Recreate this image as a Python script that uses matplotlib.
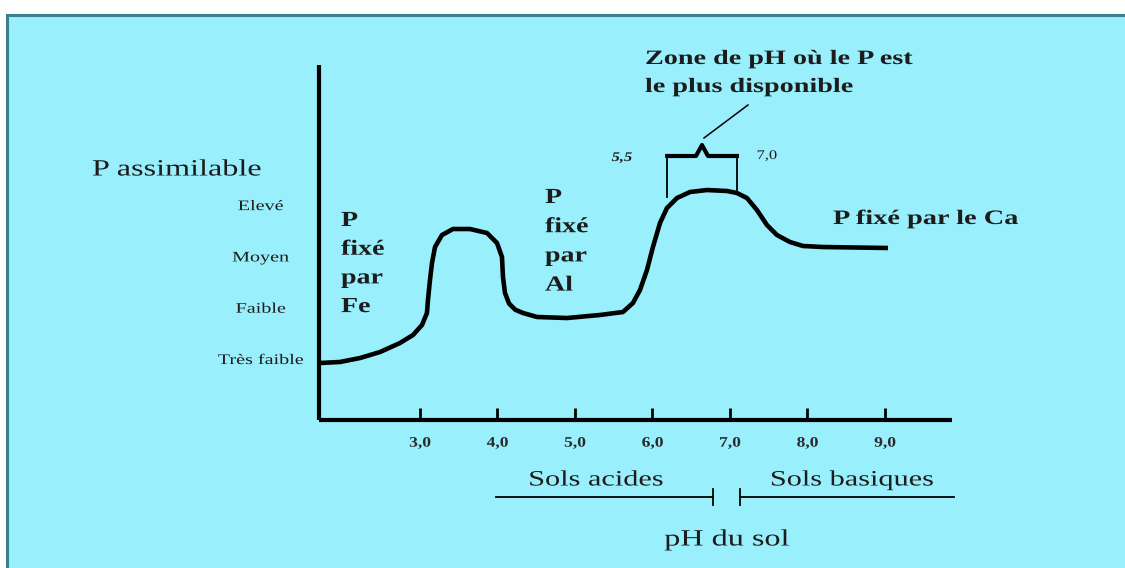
import matplotlib
matplotlib.use("Agg")
import matplotlib.pyplot as plt
from matplotlib.patches import Rectangle
from matplotlib.patheffects import AbstractPathEffect
from matplotlib.transforms import Affine2D

# ---- data ----
ph_values = [1.710, 1.968, 2.226, 2.484, 2.742, 2.910, 3.026, 3.090, 3.103, 3.129,
             3.155, 3.194, 3.284, 3.426, 3.645, 3.865, 3.994, 4.058, 4.071, 4.097,
             4.150, 4.230, 4.329, 4.510, 4.897, 5.323, 5.619, 5.748, 5.839,
             5.929, 6.006, 6.097, 6.187, 6.316, 6.484, 6.703, 6.961, 7.090, 7.219,
             7.348, 7.477, 7.606, 7.774, 7.942, 8.200, 9.039]
p_levels = [0.922, 0.942, 1.019, 1.136, 1.312, 1.468, 1.663, 1.897, 2.150, 2.540,
            2.871, 3.183, 3.417, 3.534, 3.534, 3.456, 3.261, 2.988, 2.598, 2.287,
            2.080, 1.960, 1.897, 1.819, 1.799, 1.858, 1.916, 2.092, 2.345,
            2.735, 3.183, 3.651, 3.943, 4.138, 4.255, 4.294, 4.275, 4.236, 4.138,
            3.904, 3.612, 3.417, 3.281, 3.203, 3.183, 3.164]
x_ticks = [3.0, 4.0, 5.0, 6.0, 7.0, 8.0, 9.0]
x_tick_labels = ["3,0", "4,0", "5,0", "6,0", "7,0", "8,0", "9,0"]
y_ticks = [1, 2, 3, 4]
y_tick_labels = ["Très faible", "Faible", "Moyen", "Elevé"]
zone_bounds = [6.19, 7.09]
zone_labels = ["5,5", "7,0"]

W, H = 1125, 568
BG = "#9aeffc"
INK = "#1c1c1c"
SX = 1.38  # the reference's lettering is horizontally stretched
FONT = "Liberation Serif"
plt.rcParams["font.family"] = [FONT, "DejaVu Serif"]


class StretchX(AbstractPathEffect):
    """Widen glyphs horizontally, about the left edge or the centre of the line."""

    def __init__(self, sx, anchor="left"):
        super().__init__()
        self.sx = sx
        self.anchor = anchor

    def draw_path(self, renderer, gc, tpath, affine, rgbFace=None):
        if self.anchor == "center":
            ext = tpath.get_extents()
            cx = 0.5 * (ext.x0 + ext.x1)
        else:
            cx = 0.0
        st = Affine2D().translate(-cx, 0).scale(self.sx, 1).translate(cx, 0)
        renderer.draw_path(gc, tpath, st + affine, rgbFace)


fig = plt.figure(figsize=(W / 100, H / 100), dpi=100)
fig.patch.set_facecolor("white")
bg = Rectangle((6.5 / W, -0.05), 1.1, (H - 14.5) / H + 0.05, transform=fig.transFigure,
               facecolor=BG, edgecolor="#3a7f8c", linewidth=2.2, zorder=-5)
fig.add_artist(bg)

ax_l, ax_r, ax_b, ax_t = 319, 952, 420, 65
ax = fig.add_axes([ax_l / W, (H - ax_b) / H, (ax_r - ax_l) / W, (ax_b - ax_t) / H])
ax.set_zorder(2)
ax.set_facecolor("none")
ax.set_xlim(1.697, 9.865)
ax.set_ylim(-0.189, 6.731)
for s in ["top", "right"]:
    ax.spines[s].set_visible(False)
for s in ["left", "bottom"]:
    ax.spines[s].set_linewidth(3.0)
    ax.spines[s].set_color("black")
    ax.spines[s].set_capstyle("butt")

ax.set_xticks(x_ticks)
ax.set_xticklabels(x_tick_labels, fontsize=10.5, color="#2a2a2a", fontweight="bold")
ax.tick_params(axis="x", direction="in", length=9, width=2, pad=12)
ax.set_yticks(y_ticks)
ax.set_yticklabels(y_tick_labels, fontsize=10.5, color=INK)
ax.tick_params(axis="y", length=0, pad=42)
for lab in ax.get_yticklabels():
    lab.set_horizontalalignment("center")
    lab.set_path_effects([StretchX(SX, "center")])
for lab in ax.get_xticklabels():
    lab.set_path_effects([StretchX(1.2, "center")])

ax.plot(ph_values, p_levels, color="black", linewidth=3.3, solid_capstyle="butt",
        solid_joinstyle="round")


# helper: pixel position -> data position (layout only)
def px(x):
    return 3.0 + (x - 420) / 77.5


def py(y):
    return 1.0 + (359 - y) / 51.3


def label(x, y, s, size, ha="left", weight="normal", style="normal", sx=SX):
    t = ax.text(px(x), py(y), s, fontsize=size, ha=ha, va="center", color=INK,
                fontweight=weight, style=style, clip_on=False)
    t.set_path_effects([StretchX(sx, "center" if ha == "center" else "left")])
    return t


label(92, 170, "P assimilable", 16.8)

for i, w in enumerate(["P", "fixé", "par", "Fe"]):
    label(341, 221 + 28.7 * i, w, 15.5, weight="bold", sx=1.3)
for i, w in enumerate(["P", "fixé", "par", "Al"]):
    label(545, 198 + 29.2 * i, w, 15.5, weight="bold", sx=1.3)
label(833, 219, "P fixé par le Ca", 14.8, weight="bold")

label(645, 59, "Zone de pH où le P est", 14.7, weight="bold")
label(645, 87, "le plus disponible", 14.7, weight="bold")

# bracket over the zone of best availability
xl, xr = zone_bounds
ytop = py(156)
ax.plot([xl, xl], [py(197), ytop], color="black", lw=1.3, clip_on=False)
ax.plot([xr, xr], [py(190), ytop], color="black", lw=1.3, clip_on=False)
ax.plot([xl, px(696), px(702), px(708), xr], [ytop, ytop, py(145), ytop, ytop],
        color="black", lw=3.0, clip_on=False, solid_joinstyle="round")
ax.plot([px(704), px(748)], [py(138), py(105)], color="black", lw=1.1, clip_on=False)
label(622, 158, zone_labels[0], 9.5, ha="center", style="italic", weight="bold", sx=1.25)
label(767, 156, zone_labels[1], 9.5, ha="center", sx=1.25)

# bottom annotations
label(596, 481, "Sols acides", 15.8, ha="center")
label(852, 481, "Sols basiques", 15.8, ha="center")
ax.plot([px(496), px(713)], [py(497), py(497)], color="black", lw=1.3, clip_on=False)
ax.plot([px(713), px(713)], [py(489), py(505)], color="black", lw=1.3, clip_on=False)
ax.plot([px(740), px(954)], [py(497), py(497)], color="black", lw=1.3, clip_on=False)
ax.plot([px(740), px(740)], [py(489), py(505)], color="black", lw=1.3, clip_on=False)
label(727, 540, "pH du sol", 16.8, ha="center")

fig.savefig("out.png", dpi=100, facecolor=fig.get_facecolor())
